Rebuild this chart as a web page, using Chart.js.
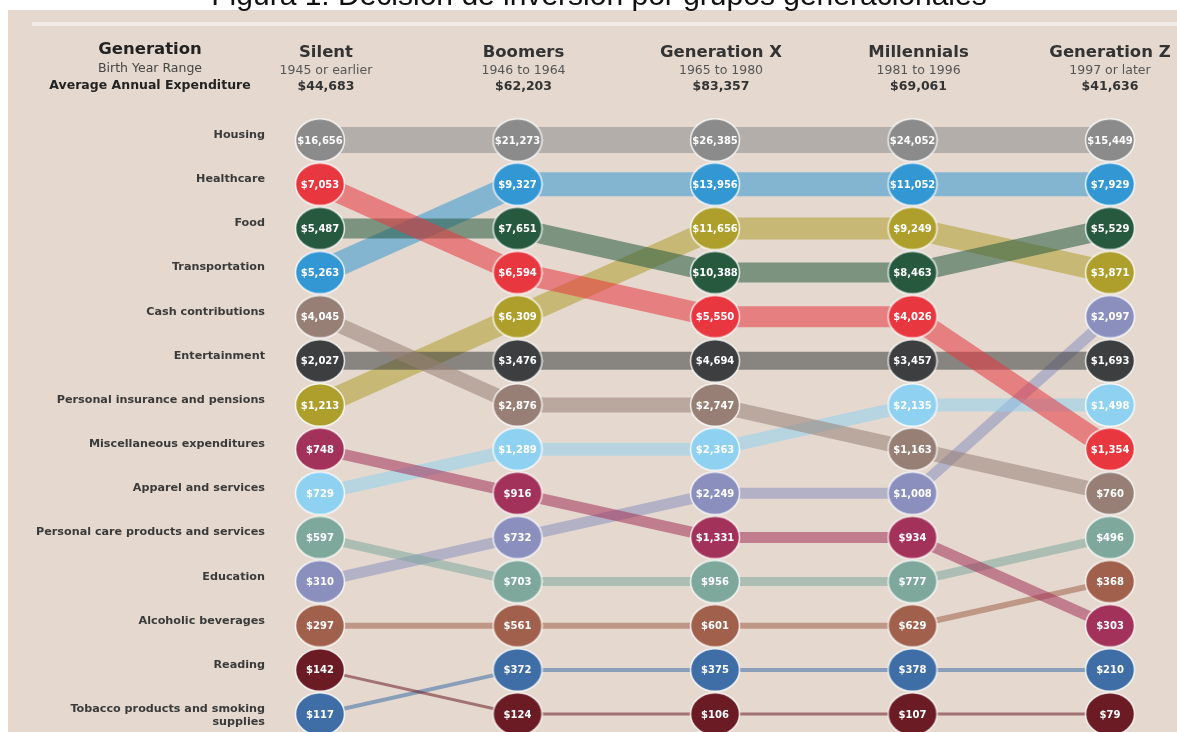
<!DOCTYPE html>
<html>
<head>
<meta charset="utf-8">
<title>Decisión de inversión por grupos generacionales</title>
<script src="https://cdn.jsdelivr.net/npm/chart.js@4.4.1/dist/chart.umd.min.js"></script>
<style>
  html, body { margin: 0; padding: 0; background: #fff; }
  #wrap { position: relative; width: 1177px; height: 732px; overflow: hidden; }
  #panel { position: absolute; left: 8px; top: 10px; right: 0; bottom: 0; background: #e5d9cf; }
  #stripe { position: absolute; left: 32px; top: 22px; right: 0; height: 4px; background: #f2ece7; }
  #chart { position: absolute; left: 0; top: 0; }
</style>
</head>
<body>
<div id="wrap">
  <div id="panel"></div>
  <div id="stripe"></div>
  <canvas id="chart" width="1177" height="732"></canvas>
</div>
<script>
// Generaciones (columnas)
const generaciones = ['Silent', 'Boomers', 'Generation X', 'Millennials', 'Generation Z'];
const rangos = ['1945 or earlier', '1946 to 1964', '1965 to 1980', '1981 to 1996', '1997 or later'];
const gastoTotal = [44683, 62203, 83357, 69061, 41636];

// Categorías (en el orden de la columna Silent)
const categorias = [
  'Housing', 'Healthcare', 'Food', 'Transportation', 'Cash contributions',
  'Entertainment', 'Personal insurance and pensions', 'Miscellaneous expenditures',
  'Apparel and services', 'Personal care products and services', 'Education',
  'Alcoholic beverages', 'Reading', 'Tobacco products and smoking\nsupplies'
];

// Gasto anual por categoría: Silent, Boomers, Gen X, Millennials, Gen Z
const housing        = [16656, 21273, 26385, 24052, 15449];
const healthcare     = [7053, 6594, 5550, 4026, 1354];
const food           = [5487, 7651, 10388, 8463, 5529];
const transportation = [5263, 9327, 13956, 11052, 7929];
const cash           = [4045, 2876, 2747, 1163, 760];
const entertainment  = [2027, 3476, 4694, 3457, 1693];
const insurance      = [1213, 6309, 11656, 9249, 3871];
const misc           = [748, 916, 1331, 934, 303];
const apparel        = [729, 1289, 2363, 2135, 1498];
const personalCare   = [597, 703, 956, 777, 496];
const education      = [310, 732, 2249, 1008, 2097];
const alcohol        = [297, 561, 601, 629, 368];
const reading        = [142, 124, 106, 107, 79];
const tobacco        = [117, 372, 375, 378, 210];

const series = [housing, healthcare, food, transportation, cash, entertainment, insurance,
  misc, apparel, personalCare, education, alcohol, reading, tobacco];

// estilos
const colores = ['#8b8b8b', '#e8373f', '#27593f', '#3397d3', '#977f76', '#3c3e3f', '#ae9f2c',
  '#a3325a', '#8fd1f0', '#7ea89c', '#8b8fbe', '#a0604c', '#6b1b24', '#3e6ea5'];
const grosor = [26, 21, 20, 24, 15, 18, 22, 11, 13, 9, 11, 6, 3, 4];

const FONT = "'DejaVu Sans', 'Liberation Sans', Arial, sans-serif";

function alfa(hex, a) {
  const n = parseInt(hex.slice(1), 16);
  return `rgba(${(n >> 16) & 255},${(n >> 8) & 255},${n & 255},${a})`;
}

// posición (1 = mayor gasto) de la serie i en la generación g
function rango(g, i) {
  const col = series.map(s => s[g]);
  return col.filter(v => v > col[i]).length + 1;
}

function elipse(color) {
  const c = document.createElement('canvas');
  c.width = 52; c.height = 46;
  const g = c.getContext('2d');
  g.beginPath();
  g.ellipse(26, 23, 24.5, 21.3, 0, 0, Math.PI * 2);
  g.fillStyle = color;
  g.fill();
  g.lineWidth = 1.6;
  g.strokeStyle = 'rgba(255,255,255,0.8)';
  g.stroke();
  return c;
}

const puntos = series.map((s, i) => s.map((v, g) => ({ x: g, y: rango(g, i), v })));

const datasets = [];
series.forEach((s, i) => {
  datasets.push({
    label: categorias[i],
    data: puntos[i],
    borderColor: alfa(colores[i], 0.55),
    borderWidth: grosor[i],
    borderCapStyle: 'butt',
    pointRadius: 0,
    tension: 0,
    clip: false,
    order: 1
  });
});
series.forEach((s, i) => {
  datasets.push({
    label: categorias[i] + ' (valores)',
    data: puntos[i],
    showLine: false,
    pointStyle: elipse(colores[i]),
    pointRadius: 22,
    clip: false,
    order: 0,
    esValor: true
  });
});

// etiquetas de la columna Silent (fila -> categoría)
const etiquetasFila = categorias.map((c, i) => ({ fila: rango(0, i), texto: c }))
  .sort((a, b) => a.fila - b.fila).map(e => e.texto);

const etiquetasValor = {
  id: 'etiquetasValor',
  afterDatasetsDraw(chart) {
    const ctx = chart.ctx;
    ctx.save();
    ctx.font = `bold 10px ${FONT}`;
    ctx.fillStyle = '#ffffff';
    ctx.textAlign = 'center';
    ctx.textBaseline = 'middle';
    chart.data.datasets.forEach((ds, di) => {
      if (!ds.esValor) return;
      chart.getDatasetMeta(di).data.forEach((el, k) => {
        ctx.fillText('$' + ds.data[k].v.toLocaleString('en-US'), el.x, el.y + 1);
      });
    });
    ctx.restore();
  }
};

const encabezado = {
  id: 'encabezado',
  afterDraw(chart) {
    const ctx = chart.ctx;
    const xs = chart.scales.x;
    ctx.save();
    ctx.textAlign = 'center';

    // título del documento (cortado arriba)
    ctx.fillStyle = '#111';
    ctx.font = "30px 'Liberation Sans', Arial, sans-serif";
    ctx.textBaseline = 'alphabetic';
    ctx.fillText('Figura 1: Decisión de inversión por grupos generacionales', 599, 5);
    ctx.textBaseline = 'middle';

    ctx.fillStyle = '#222';
    ctx.font = `bold 16.5px ${FONT}`;
    ctx.fillText('Generation', 150, 50);
    ctx.fillStyle = '#444';
    ctx.font = `12.5px ${FONT}`;
    ctx.fillText('Birth Year Range', 150, 69);
    ctx.fillStyle = '#222';
    ctx.font = `bold 12.5px ${FONT}`;
    ctx.fillText('Average Annual Expenditure', 150, 86);

    generaciones.forEach((g, i) => {
      const x = Math.min(xs.getPixelForValue(i) + 6, 1110);
      ctx.fillStyle = '#333';
      ctx.font = `bold 16.5px ${FONT}`;
      ctx.fillText(g, x, 53);
      ctx.fillStyle = '#555';
      ctx.font = `12.5px ${FONT}`;
      ctx.fillText(rangos[i], x, 71);
      ctx.fillStyle = '#333';
      ctx.font = `bold 12.5px ${FONT}`;
      ctx.fillText('$' + gastoTotal[i].toLocaleString('en-US'), x, 87);
    });
    ctx.restore();
  }
};

const ctx = document.getElementById('chart').getContext('2d');

new Chart(ctx, {
  type: 'line',
  data: { datasets },
  options: {
    responsive: false,
    animation: false,
    events: [],
    layout: { autoPadding: false, padding: { top: 118, bottom: 2.5, left: 0, right: 0 } },
    scales: {
      x: {
        type: 'linear',
        min: -0.2278,
        max: 4.339,
        display: false
      },
      y: {
        type: 'linear',
        reverse: true,
        min: 0.5,
        max: 14.35,
        position: 'left',
        grid: { display: false, drawTicks: false },
        border: { display: false },
        afterBuildTicks(scale) {
          scale.ticks = etiquetasFila.map((_, i) => ({ value: i + 1 }));
        },
        afterFit(scale) {
          scale.width = 275;
          scale.paddingTop = 0;
          scale.paddingBottom = 0;
        },
        ticks: {
          autoSkip: false,
          padding: 10,
          labelOffset: -5,
          color: '#3a3a3a',
          font: { family: FONT, size: 11.2, weight: 'bold', lineHeight: 1.2 },
          callback(value) {
            const t = etiquetasFila[Math.round(value) - 1] || '';
            return t.includes('\n') ? ['', ...t.split('\n')] : t;
          }
        }
      }
    },
    plugins: {
      legend: { display: false },
      tooltip: { enabled: false },
      title: { display: false }
    }
  },
  plugins: [etiquetasValor, encabezado]
});
</script>
</body>
</html>
